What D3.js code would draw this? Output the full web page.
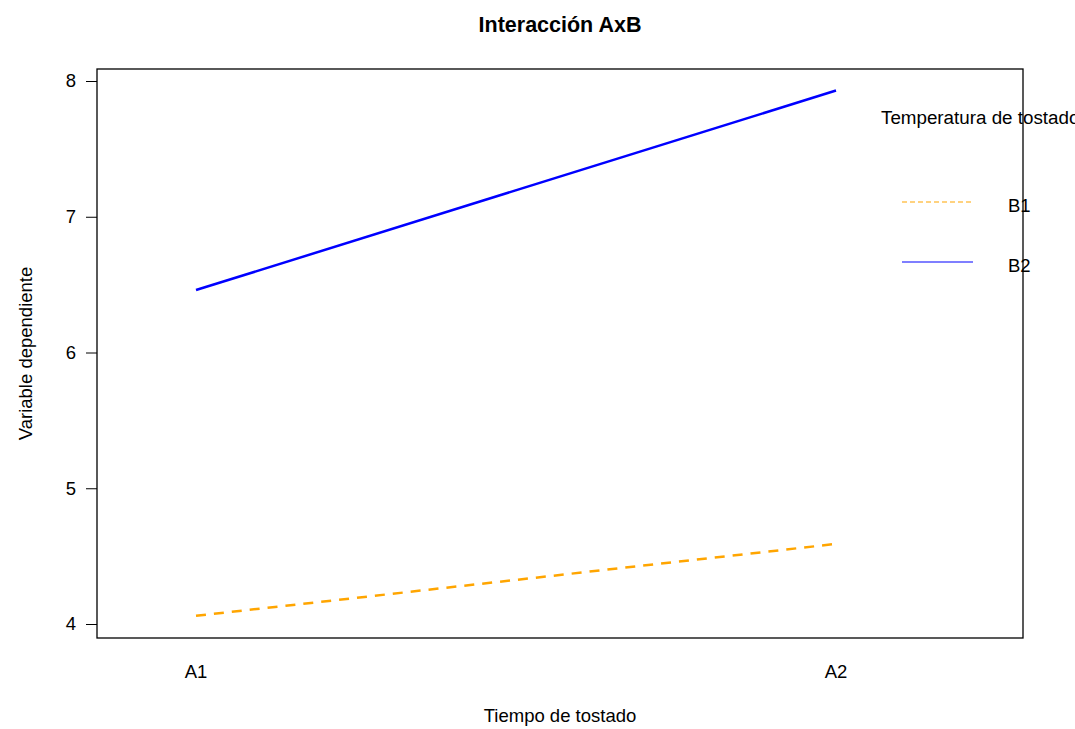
<!DOCTYPE html>
<html>
<head>
<meta charset="utf-8">
<script src="https://cdn.jsdelivr.net/npm/d3@7"></script>
<style>
  body { margin: 0; background: #fff; }
  text { font-family: "Liberation Sans", Arial, sans-serif; fill: #000; }
</style>
</head>
<body>
<div id="chart"></div>
<script>
const width = 1075;
const height = 729;

// niveles del factor A (eje x) y del factor B (trazas)
const levelsA = ['A1', 'A2'];
const levelsB = ['B1', 'B2'];
const meansB1 = [4.06, 4.59];
const meansB2 = [6.46, 7.93];
const yTicks = [4, 5, 6, 7, 8];

const series = [
    { name: levelsB[0], values: meansB1, color: '#FFA500', dash: '10,8' },
    { name: levelsB[1], values: meansB2, color: '#0000FF', dash: null }
];

const box = { left: 97, right: 1023, top: 69, bottom: 638 };

const svg = d3.select('#chart')
    .append('svg')
    .attr('width', width)
    .attr('height', height);

const x = d3.scalePoint()
    .domain(levelsA)
    .range([196, 836]);

const y = d3.scaleLinear()
    .domain([4, 8])
    .range([624, 81]);

// titulo
svg.append('text')
    .attr('x', (box.left + box.right) / 2)
    .attr('y', 32)
    .attr('text-anchor', 'middle')
    .style('font-size', '21.5px')
    .style('font-weight', 'bold')
    .text('Interacción AxB');

// eje y
const yAxis = svg.append('g')
    .attr('transform', `translate(${box.left},0)`)
    .call(d3.axisLeft(y).tickValues(yTicks).tickSize(11).tickPadding(10).tickFormat(d3.format('d')));
yAxis.select('.domain').remove();
yAxis.selectAll('line').attr('stroke', '#000');
yAxis.selectAll('text').style('font-size', '18.5px').style('font-family', '"Liberation Sans", Arial, sans-serif');

// etiquetas del eje x (sin marcas)
svg.selectAll('.xlab')
    .data(levelsA)
    .enter()
    .append('text')
    .attr('class', 'xlab')
    .attr('x', d => x(d))
    .attr('y', 678)
    .attr('text-anchor', 'middle')
    .style('font-size', '18.5px')
    .text(d => d);

svg.append('text')
    .attr('x', (box.left + box.right) / 2)
    .attr('y', 722)
    .attr('text-anchor', 'middle')
    .style('font-size', '18.5px')
    .text('Tiempo de tostado');

svg.append('text')
    .attr('transform', `translate(32, ${(box.top + box.bottom) / 2}) rotate(-90)`)
    .attr('text-anchor', 'middle')
    .style('font-size', '18.5px')
    .text('Variable dependiente');

// lineas de interaccion
const line = d3.line()
    .x((d, i) => x(levelsA[i]))
    .y(d => y(d));

svg.selectAll('.trace')
    .data(series)
    .enter()
    .append('path')
    .attr('class', 'trace')
    .attr('d', d => line(d.values))
    .attr('fill', 'none')
    .attr('stroke', d => d.color)
    .attr('stroke-width', 2.5)
    .attr('stroke-dasharray', d => d.dash);

// leyenda
const legend = svg.append('g');

legend.append('text')
    .attr('x', 881)
    .attr('y', 124)
    .style('font-size', '18.8px')
    .text('Temperatura de tostado');

const legendY = d3.scalePoint()
    .domain(levelsB)
    .range([202, 262]);

const legendItem = legend.selectAll('.item')
    .data(series)
    .enter()
    .append('g')
    .attr('class', 'item')
    .attr('transform', d => `translate(0, ${legendY(d.name)})`);

legendItem.append('line')
    .attr('x1', 902)
    .attr('x2', 973)
    .attr('stroke', d => d.color)
    .attr('stroke-width', 1.2)
    .attr('stroke-dasharray', d => d.dash ? '5,3' : null);

legendItem.append('text')
    .attr('x', 1008)
    .attr('y', 10)
    .style('font-size', '18.5px')
    .text(d => d.name);

// caja del grafico
svg.append('rect')
    .attr('x', box.left)
    .attr('y', box.top)
    .attr('width', box.right - box.left)
    .attr('height', box.bottom - box.top)
    .attr('fill', 'none')
    .attr('stroke', '#000')
    .attr('stroke-width', 1.3);
</script>
</body>
</html>
